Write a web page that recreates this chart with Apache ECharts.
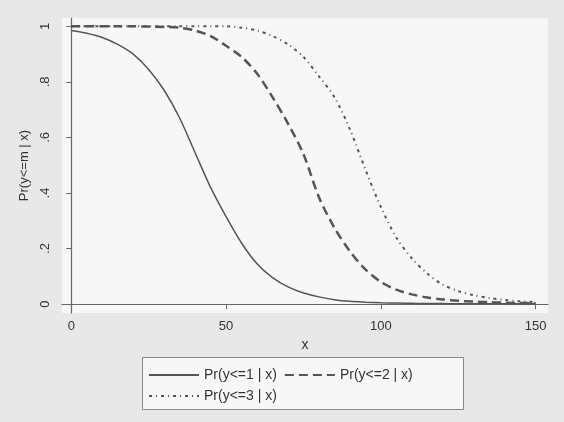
<!DOCTYPE html>
<html>
<head>
<meta charset="utf-8">
<script src="https://cdn.jsdelivr.net/npm/echarts@6/dist/echarts.min.js"></script>
<style>
  html, body { margin: 0; padding: 0; background: #e8e8e8; }
  #chart { width: 564px; height: 422px; }
</style>
</head>
<body>
<div id="chart"></div>
<script>
// x values (step 5)
const xValues = [0, 5, 10, 15, 20, 25, 30, 35, 40, 45, 50, 55, 60, 65, 70, 75,
  80, 85, 90, 95, 100, 105, 110, 115, 120, 125, 130, 135, 140, 145, 150]

// values
const prY1 = [0.985, 0.975, 0.96, 0.935, 0.90, 0.845, 0.77, 0.67, 0.545, 0.42, 0.315,
  0.22, 0.145, 0.095, 0.062, 0.04, 0.026, 0.016, 0.01, 0.007, 0.005, 0.004, 0.003,
  0.002, 0.002, 0.001, 0.001, 0.001, 0.001, 0.001, 0.001]
const prY2 = [1, 1, 1, 1, 1, 0.999, 0.998, 0.995, 0.985, 0.965, 0.93, 0.89, 0.83,
  0.745, 0.65, 0.54, 0.385, 0.275, 0.19, 0.125, 0.08, 0.052, 0.035, 0.024, 0.017,
  0.012, 0.009, 0.007, 0.005, 0.004, 0.003]
const prY3 = [1, 1, 1, 1, 1, 1, 1, 1, 1, 1, 1, 0.995, 0.985, 0.965, 0.935, 0.89, 0.82,
  0.745, 0.63, 0.485, 0.35, 0.24, 0.165, 0.11, 0.07, 0.047, 0.032, 0.022, 0.015,
  0.01, 0.007]

const seriesNames = ['Pr(y<=1 | x)', 'Pr(y<=2 | x)', 'Pr(y<=3 | x)']
const xTicks = [0, 50, 100, 150]
const yTicks = [0, 0.2, 0.4, 0.6, 0.8, 1]
const yTickLabels = ['0', '.2', '.4', '.6', '.8', '1']

const font = "'Liberation Sans', Arial, sans-serif"
const lineColor = '#555'

const pairs = (ys) => xValues.map((x, i) => [x, ys[i]])

const chart = echarts.init(document.getElementById('chart'))

const makeSeries = (name, ys, lineStyle) => ({
  name,
  type: 'line',
  data: pairs(ys),
  smooth: 0.3,
  symbol: 'none',
  lineStyle: Object.assign({ color: lineColor }, lineStyle),
  itemStyle: { color: lineColor }
})

const option = {
  backgroundColor: '#e8e8e8',
  animation: false,
  textStyle: { fontFamily: font },
  grid: {
    left: 62,
    right: 16,
    top: 18,
    bottom: 109,
    show: true,
    backgroundColor: '#f7f7f7',
    borderWidth: 0
  },
  xAxis: {
    type: 'value',
    min: -3,
    max: 154,
    name: 'x',
    nameLocation: 'middle',
    nameGap: 23,
    nameTextStyle: { color: '#333', fontSize: 14, fontFamily: font },
    splitLine: { show: false },
    axisLine: { show: true, lineStyle: { color: '#666', width: 1.2 } },
    axisTick: { show: true, length: 5, customValues: xTicks, lineStyle: { color: '#666' } },
    axisLabel: {
      customValues: xTicks,
      color: '#333',
      fontSize: 13,
      fontFamily: font,
      margin: 7
    }
  },
  yAxis: {
    type: 'value',
    min: -0.032,
    max: 1.03,
    name: 'Pr(y<=m | x)',
    nameLocation: 'middle',
    nameGap: 30,
    nameTextStyle: { color: '#333', fontSize: 13, fontFamily: font },
    splitLine: { show: false },
    axisLine: { show: true, lineStyle: { color: '#666', width: 1.2 } },
    axisTick: { show: true, length: 5, customValues: yTicks, lineStyle: { color: '#666' } },
    axisLabel: {
      customValues: yTicks,
      rotate: 90,
      color: '#333',
      fontSize: 13,
      fontFamily: font,
      margin: 10,
      formatter: (v) => {
        const i = yTicks.findIndex(t => Math.abs(t - v) < 1e-6)
        return i >= 0 ? yTickLabels[i] : ''
      }
    }
  },
  legend: {
    data: seriesNames,
    left: 148,
    top: 368,
    width: 320,
    padding: 0,
    itemWidth: 50,
    itemHeight: 14,
    itemGap: 7,
    itemTextGap: 10,
    // hide the marker drawn on top of the line sample
    itemStyle: { opacity: 0 },
    textStyle: { color: '#333', fontSize: 14, fontFamily: font, width: 98 }
  },
  // legend box
  graphic: [{
    type: 'rect',
    left: 142,
    top: 357,
    shape: { width: 321, height: 52 },
    style: { fill: '#f7f7f7', stroke: '#888', lineWidth: 1 },
    z: -1
  }],
  series: [
    makeSeries(seriesNames[0], prY1, { type: 'solid', width: 1.5 }),
    makeSeries(seriesNames[1], prY2, { type: [9, 5], width: 2.5 }),
    makeSeries(seriesNames[2], prY3, { type: [3, 4, 1, 4], width: 2 })
  ]
}

chart.setOption(option)
</script>
</body>
</html>
